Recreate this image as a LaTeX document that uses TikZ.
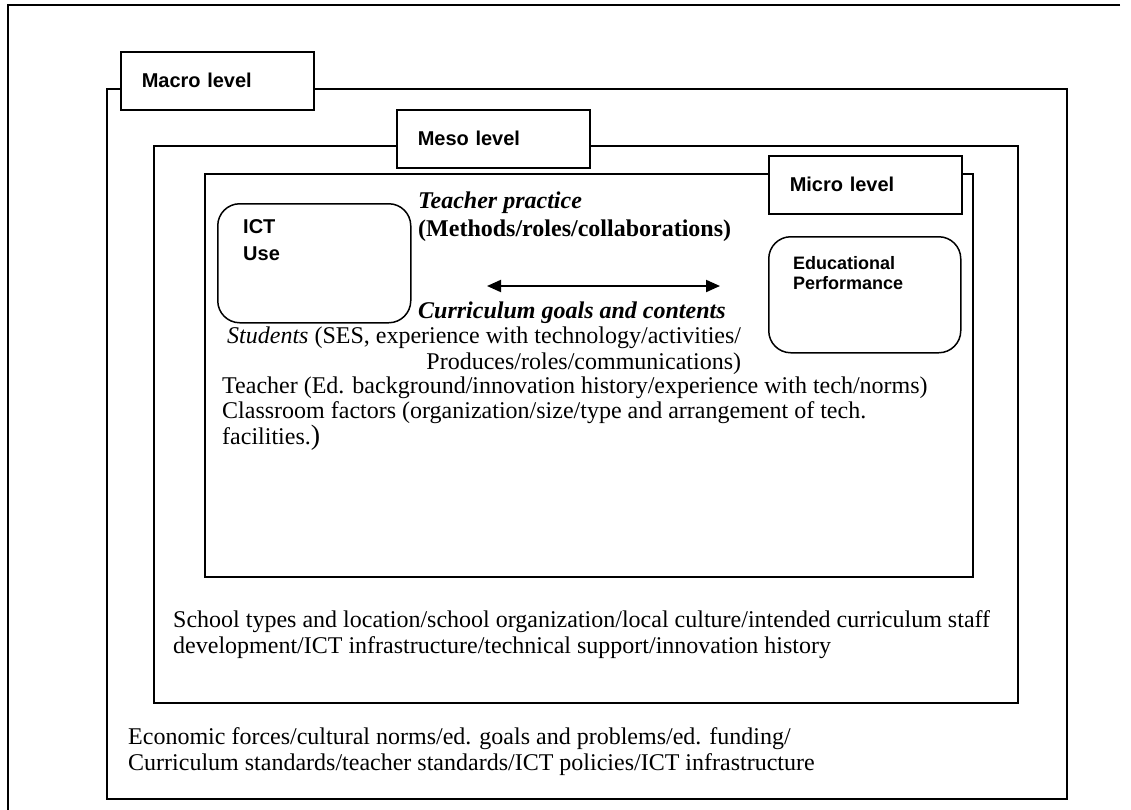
\documentclass[tikz,border=0pt]{standalone}
\usepackage{fontspec}
\setmainfont{Liberation Serif}
\setsansfont{Liberation Sans}
\usepackage{tikz}
\usetikzlibrary{shapes,arrows.meta,positioning}
\tikzstyle{frame} = [draw, line width=1.5pt]
\tikzstyle{levelbox} = [draw, fill=white, line width=1.5pt, anchor=north west, minimum width=193pt, minimum height=58pt, text width=151pt, inner xsep=21pt, align=left, font=\sffamily\bfseries\fontsize{20}{24}\selectfont]
\tikzstyle{factor} = [draw, rounded corners=22pt, line width=1.5pt, anchor=north west, minimum width=193pt]
\tikzstyle{factorlabel} = [anchor=north west, inner sep=0pt, align=left, font=\sffamily\bfseries\fontsize{20}{27}\selectfont]
\tikzstyle{body} = [anchor=base west, inner sep=0pt, align=left, font=\fontsize{24}{25.5}\selectfont]
\tikzstyle{link} = [{Triangle[length=14pt,width=12pt]}-{Triangle[length=14pt,width=12pt]}, line width=2pt]

\begin{document}
\begin{tikzpicture}[x=1pt,y=-1pt]
		\useasboundingbox (0,0) rectangle (1131,809);
		% page frame and the three nested levels
		\draw [frame] (1120,5) -- (8,5) -- (8,815);
		\draw [frame] (107,89) rectangle (1067,799);
		\draw [frame] (154,146) rectangle (1018,703);
		\draw [frame] (205,174) rectangle (973,577);
		
		\node [levelbox] (macro) at (120,51) {Macro level};
		\node [levelbox] (meso) at (396,109) {Meso level};
		\node [levelbox] (micro) at (768,155) {Micro level};
		
		% micro level
		\node [factor, minimum height=119pt] (ict) at (217,203) {};
		\node [factorlabel, below right=16pt and 26pt of ict.north west] (ictlabel) {ICT\\Use};
		\node [factor, minimum width=192pt, minimum height=116pt] (perf) at (768,236) {};
		\node [factorlabel, font=\sffamily\bfseries\fontsize{18}{20}\selectfont, below right=20pt and 25pt of perf.north west] (perflabel) {Educational\\Performance};
		
		\node [body] (practice) at (418,236) {\textbf{\textit{Teacher practice}}\\[2pt]\textbf{(Methods/roles/collaborations)}};
		\coordinate (linkL) at (487,286);
		\coordinate (linkR) at (720,286);
		\draw [link] (linkL) -- (linkR);
		\node [body] (goals) at (418,318) {\textbf{\textit{Curriculum goals and contents}}};
		\node [body, align=right] (students) at (227,369) {\textit{Students} (SES, experience with technology/activities/\\Produces/roles/communications)};
		\node [body] (teacher) at (222,444) {Teacher (Ed. background/innovation history/experience with tech/norms)\\Classroom factors (organization/size/type and arrangement of tech.\\facilities.{\fontsize{28}{25.5}\selectfont)}};
		
		% meso level
		\node [body] (school) at (173,653) {School types and location/school organization/local culture/intended curriculum staff\\development/ICT infrastructure/technical support/innovation history};
		
		% macro level
		\node [body] (economy) at (128,770) {Economic forces/cultural norms/ed. goals and problems/ed. funding/\\Curriculum standards/teacher standards/ICT policies/ICT infrastructure};
		
\end{tikzpicture}
\end{document}
